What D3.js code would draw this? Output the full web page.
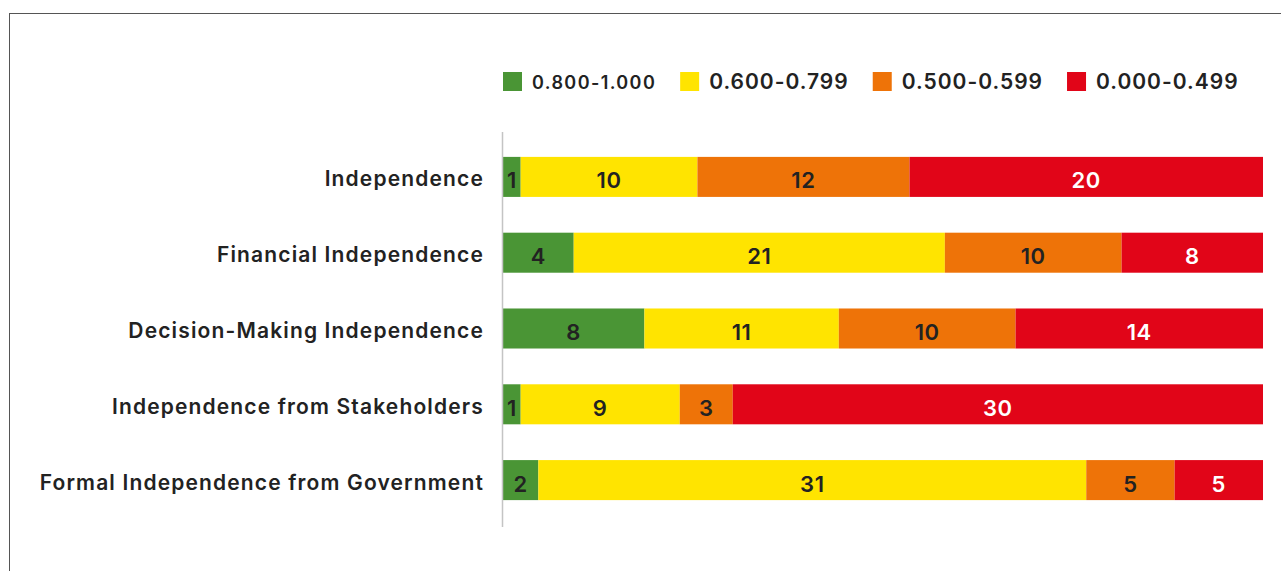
<!DOCTYPE html>
<html>
<head>
<meta charset="utf-8">
<script src="https://cdn.jsdelivr.net/npm/d3@7/dist/d3.min.js"></script>
<style>
  html, body { margin: 0; padding: 0; background: #fff; }
  svg { display: block; }
  text { font-family: Inter, "Open Sans", sans-serif; font-weight: 600; }
</style>
</head>
<body>
<svg id="chart" width="1281" height="571"></svg>
<script>
// Indicator groups (rows, top to bottom)
const categories = [
  "Independence",
  "Financial Independence",
  "Decision-Making Independence",
  "Independence from Stakeholders",
  "Formal Independence from Government"
];

// Score bands (stack order, left to right)
const bands = ["0.800-1.000", "0.600-0.799", "0.500-0.599", "0.000-0.499"];

// Number of cases per score band, one value per category
const band800to1000 = [1, 4, 8, 1, 2];
const band600to799  = [10, 21, 11, 9, 31];
const band500to599  = [12, 10, 10, 3, 5];
const band000to499  = [20, 8, 14, 30, 5];

const bandColors = ["#4a9535", "#ffe400", "#ee7308", "#e10518"];
const labelColors = ["#222222", "#222222", "#222222", "#ffffff"];

const seriesValues = [band800to1000, band600to799, band500to599, band000to499];
const rows = categories.map((c, i) => {
  const r = { category: c };
  bands.forEach((b, j) => { r[b] = seriesValues[j][i]; });
  return r;
});

const svg = d3.select("#chart");

// outer frame
svg.append("rect")
  .attr("x", 9.5).attr("y", 13.5)
  .attr("width", 1300).attr("height", 600)
  .attr("fill", "none").attr("stroke", "#555").attr("stroke-width", 1);

const stacked = d3.stack().keys(bands)(rows);
const total = d3.max(rows, r => d3.sum(bands, b => r[b]));

const x = d3.scaleLinear().domain([0, total]).range([503, 1263]);
const y = d3.scaleBand().domain(categories).range([139, 518])
  .paddingInner(0.472).paddingOuter(0.236);

const color = d3.scaleOrdinal().domain(bands).range(bandColors);
const textColor = d3.scaleOrdinal().domain(bands).range(labelColors);

// bars
const layer = svg.append("g").selectAll("g")
  .data(stacked).join("g")
  .attr("fill", d => color(d.key));

layer.selectAll("rect")
  .data(d => d)
  .join("rect")
  .attr("x", d => x(d[0]))
  .attr("y", d => y(d.data.category))
  .attr("width", d => x(d[1]) - x(d[0]))
  .attr("height", y.bandwidth());

// value labels
svg.append("g").selectAll("g")
  .data(stacked).join("g")
  .attr("fill", d => textColor(d.key))
  .selectAll("text")
  .data(d => d)
  .join("text")
  .attr("x", d => (x(d[0]) + x(d[1])) / 2)
  .attr("y", d => y(d.data.category) + y.bandwidth() / 2 + 11.5)
  .attr("text-anchor", "middle")
  .attr("font-size", 22)
  .attr("letter-spacing", 0.6)
  .text(d => d[1] - d[0]);

// category axis
const yAxis = d3.axisLeft(y).tickSize(0).tickPadding(18.5);
const ag = svg.append("g")
  .attr("transform", "translate(502.5,0)")
  .call(yAxis);
ag.select(".domain").remove();
ag.append("line")
  .attr("y1", 132).attr("y2", 527)
  .attr("stroke", "#c4c4c4").attr("stroke-width", 1.5);
ag.selectAll(".tick text")
  .attr("font-size", 21)
  .attr("letter-spacing", 1.15)
  .attr("fill", "#222")
  .attr("dy", "0.45em")
  .style("font-family", "Inter, sans-serif")
  .style("font-weight", 600);

// legend
const legend = svg.append("g").attr("transform", "translate(503,72)");
let lx = 0;
bands.forEach((b, i) => {
  const g = legend.append("g").attr("transform", `translate(${lx},0)`);
  g.append("rect").attr("width", 19).attr("height", 19).attr("fill", color(b));
  const t = g.append("text")
    .attr("x", 29).attr("y", 17)
    .attr("font-size", i === 0 ? 18 : 21)
    .attr("letter-spacing", i === 0 ? 1.4 : 1)
    .attr("fill", "#222")
    .text(b);
  lx += 29 + t.node().getComputedTextLength() + 24;
});
</script>
</body>
</html>
